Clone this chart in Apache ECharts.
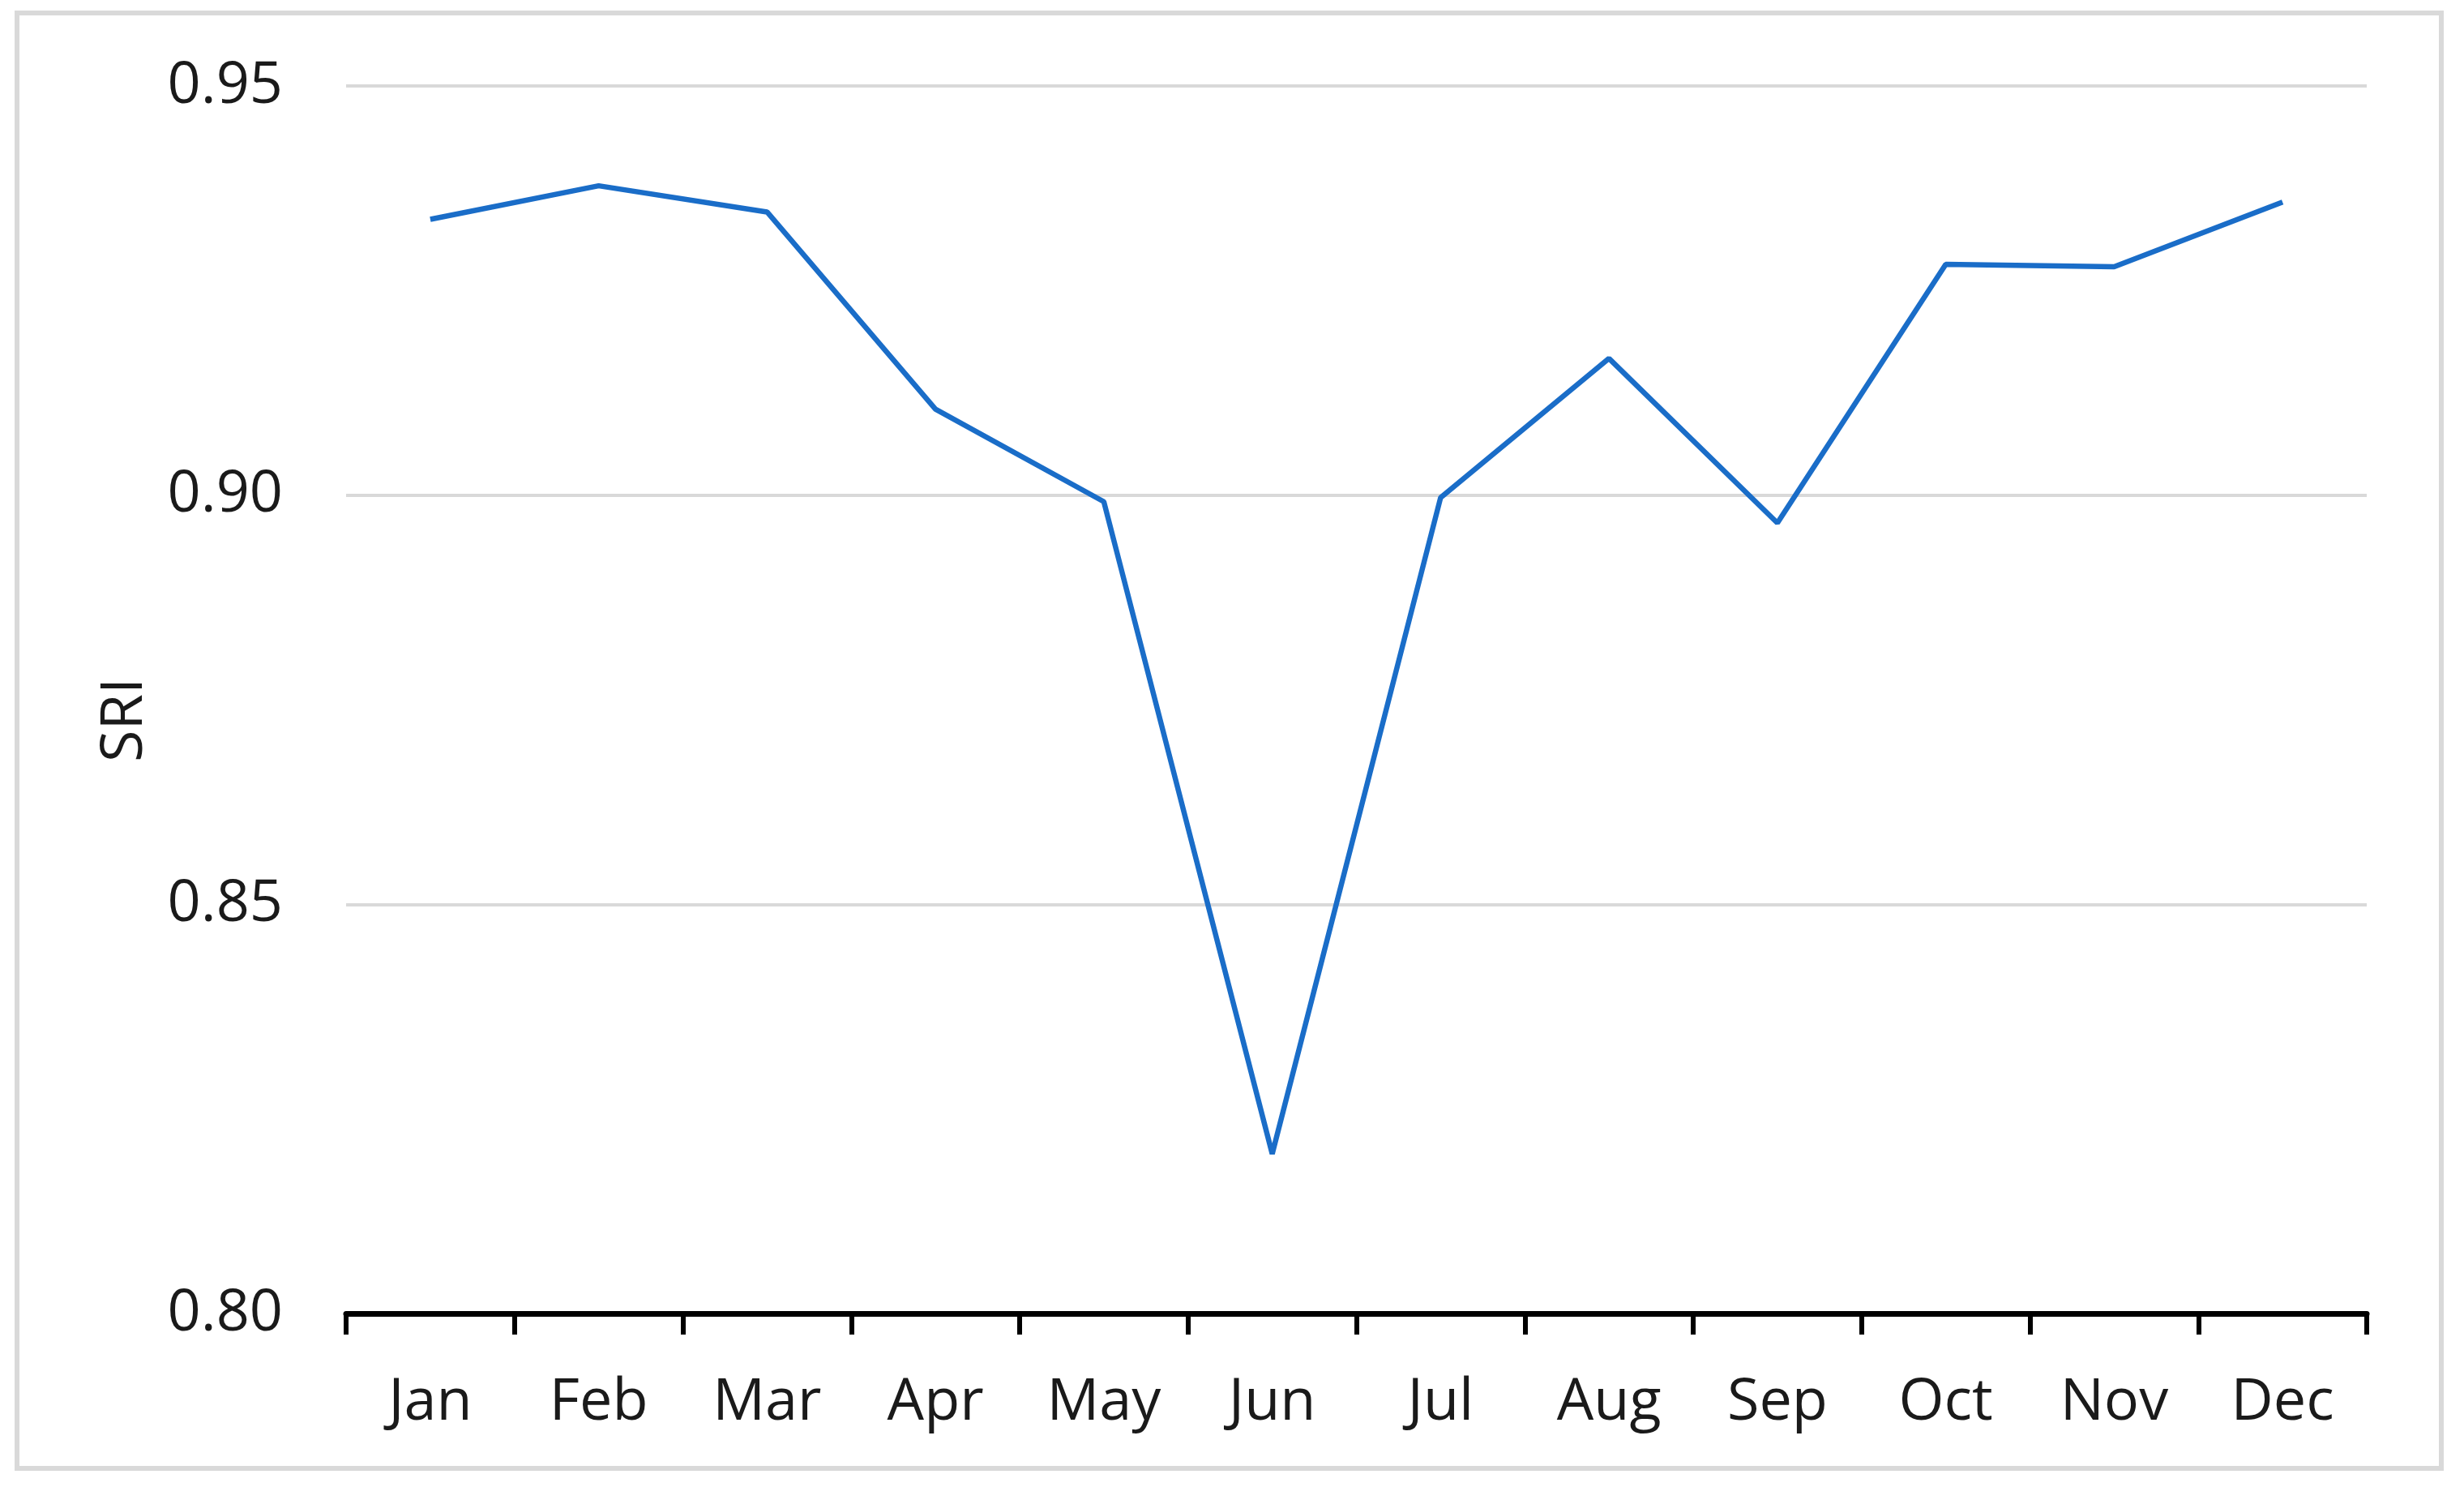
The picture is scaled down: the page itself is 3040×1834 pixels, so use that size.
<!DOCTYPE html>
<html>
<head>
<meta charset="utf-8">
<script src="https://cdn.jsdelivr.net/npm/echarts@6/dist/echarts.min.js"></script>
<style>
  html, body { margin: 0; padding: 0; background: #ffffff; }
  #chart { width: 3040px; height: 1834px; }
</style>
</head>
<body>
<div id="chart"></div>
<script>
const months = ['Jan', 'Feb', 'Mar', 'Apr', 'May', 'Jun', 'Jul', 'Aug', 'Sep', 'Oct', 'Nov', 'Dec'];
const sriValues = [0.9337, 0.9378, 0.9346, 0.9105, 0.8992, 0.8195, 0.8997, 0.9167, 0.8966, 0.9282, 0.9279, 0.9358];
const yAxisTitle = 'SRI';
const yMin = 0.80, yMax = 0.95, yStep = 0.05;

const FONT = '"Open Sans", "Noto Sans", sans-serif';
const chart = echarts.init(document.getElementById('chart'), null, { renderer: 'canvas' });
chart.setOption({
  animation: false,
  backgroundColor: '#ffffff',
  graphic: [
    {
      type: 'rect',
      shape: { x: 21, y: 16, width: 2991, height: 1795 },
      style: { fill: 'none', stroke: '#d9d9d9', lineWidth: 6 },
      silent: true,
      z: 0
    },
    {
      type: 'text',
      x: 154,
      y: 888,
      rotation: Math.PI / 2,
      style: {
        text: yAxisTitle,
        font: '72px ' + FONT,
        fill: '#1a1a1a',
        align: 'center',
        verticalAlign: 'middle'
      },
      silent: true
    }
  ],
  grid: { left: 427, right: 120, top: 106, bottom: 214, containLabel: false },
  xAxis: {
    type: 'category',
    data: months,
    boundaryGap: true,
    axisLine: { show: true, lineStyle: { color: '#000000', width: 7 } },
    axisTick: { show: true, alignWithLabel: false, length: 26, lineStyle: { color: '#000000', width: 6 } },
    axisLabel: { color: '#1a1a1a', fontSize: 72, fontFamily: FONT, margin: 74, lineHeight: 72 },
    splitLine: { show: false }
  },
  yAxis: {
    type: 'value',
    min: yMin,
    max: yMax,
    interval: yStep,
    axisLine: { show: false },
    axisTick: { show: false },
    axisLabel: {
      color: '#1a1a1a', fontSize: 72, fontFamily: FONT, margin: 78,
      formatter: v => v.toFixed(2)
    },
    splitLine: { show: true, lineStyle: { color: '#d9d9d9', width: 4 } }
  },
  series: [{
    type: 'line',
    data: sriValues,
    symbol: 'none',
    lineStyle: { color: '#1a6dc8', width: 6.5 },
    z: 3
  }]
});
</script>
</body>
</html>
